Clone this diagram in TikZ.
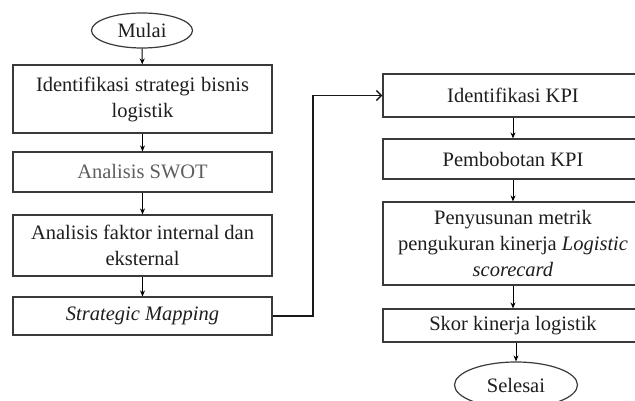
\documentclass[tikz,border=0pt]{standalone}
\usepackage{fontspec}
\setmainfont{Liberation Serif}
\usetikzlibrary{arrows.meta,shapes.geometric}
\definecolor{boxline}{HTML}{3A3A3A}
\definecolor{txt}{HTML}{1E1E1E}
\definecolor{graytxt}{HTML}{5E5E5E}
\begin{document}
\begin{tikzpicture}[x=1pt,y=-1pt,
  every node/.style={font=\fontsize{20.5}{26}\selectfont, text=txt},
  procbox/.style={draw=boxline, line width=1.2pt, rectangle, align=center, inner sep=0pt},
  termnode/.style={draw=boxline, line width=1.2pt, ellipse, inner sep=0pt},
  flow/.style={draw=black, line width=1pt, -{Stealth[length=6pt,width=5pt]}},
  link/.style={draw=black!90, line width=1.5pt, -{Straight Barb[length=5pt,width=10pt]}}]
\useasboundingbox (0,0) rectangle (635,401);
\clip (0,0) rectangle (635,401);
\fill[white] (0,0) rectangle (635,401);
% left column
\node[termnode, minimum width=101pt, minimum height=35pt] (start) at (142,30.5) {Mulai};
\node[procbox, minimum width=259pt, minimum height=68pt] (b1) at (142.5,99)
  {\makebox[213pt][s]{Identifikasi strategi bisnis}\\logistik};
\node[procbox, minimum width=259pt, minimum height=40pt, text=graytxt] (b2) at (142.5,172) {Analisis SWOT};
\node[procbox, minimum width=259pt, minimum height=61pt] (b3) at (142.5,245.5)
  {\makebox[223pt][s]{Analisis faktor internal dan}\\eksternal};
\node[procbox, minimum width=259pt, minimum height=38pt] (b4) at (142.5,316) {\textit{Strategic Mapping}};
% right column
\node[procbox, minimum width=260pt, minimum height=43pt] (r1) at (513,95.5) {Identifikasi KPI};
\node[procbox, minimum width=260pt, minimum height=40pt] (r2) at (513,159) {Pembobotan KPI};
\node[procbox, minimum width=260pt, minimum height=83pt] (r3) at (513,243.5)
  {Penyusunan metrik\\pengukuran kinerja \textit{Logistic}\\\textit{scorecard}};
\node[procbox, minimum width=260pt, minimum height=33pt] (r4) at (513,325.5) {Skor kinerja logistik};
\node[termnode, minimum width=123pt, minimum height=46pt] (stop) at (516,385) {Selesai};
% connectors
\draw[flow] (start) -- (b1);
\draw[flow] (b1) -- (b2);
\draw[flow] (b2) -- (b3);
\draw[flow] (b3) -- (b4);
\coordinate (turn) at (313,316);
\draw[link] (b4.east) -- (turn) |- (r1.west);
\draw[flow] (r1) -- (r2);
\draw[flow] (r2) -- (r3);
\draw[flow] (r3) -- (r4);
\draw[flow] (r4.south -| stop.north) -- (stop.north);
\end{tikzpicture}
\end{document}
